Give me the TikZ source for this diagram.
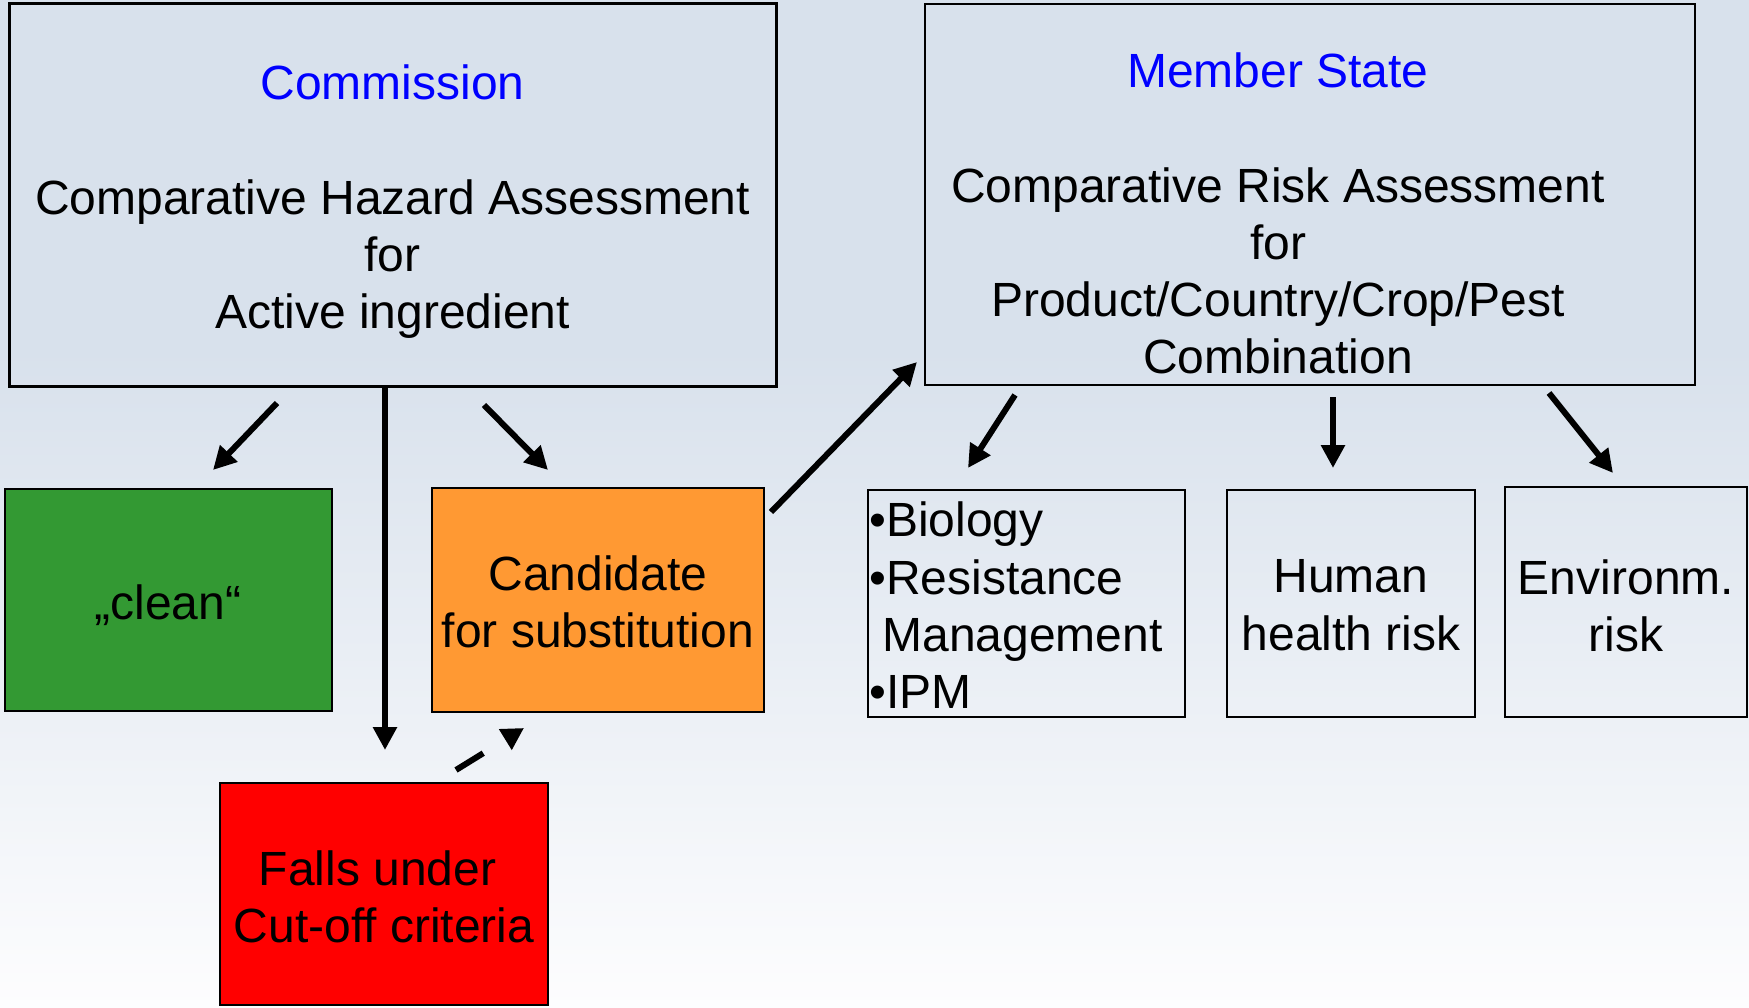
\documentclass[tikz,border=0pt]{standalone}
\usepackage{fontspec}
\setmainfont{Liberation Sans}
\usetikzlibrary{arrows.meta}
\definecolor{bgtop}{RGB}{216,225,236}
\definecolor{bgbot}{RGB}{253,253,254}
\definecolor{cgreen}{RGB}{51,153,51}
\definecolor{corange}{RGB}{255,153,51}
\definecolor{cred}{RGB}{255,0,0}
\definecolor{cblue}{RGB}{0,0,255}
\begin{document}
\begin{tikzpicture}[x=1pt,y=-1pt,
  box/.style={draw=black, line width=2.5pt, rectangle, inner sep=0pt, outer sep=0pt},
  txt/.style={font=\fontsize{48}{57.3}\selectfont, align=center, inner sep=0pt, anchor=north},
  arr/.style={line width=6pt, -{Triangle[length=23pt,width=23pt]}},
  darr/.style={line width=6pt, dash pattern=on 32pt off 60pt, -{Triangle[length=22pt,width=23pt]}},
]
% background
\useasboundingbox (0,0) rectangle (1749,1008);
\fill[bgtop] (0,0) rectangle (1749,350);
\shade[top color=bgtop, bottom color=bgbot] (0,349) rectangle (1749,1008);

% boxes
\node[box, line width=3pt, minimum width=767pt, minimum height=382pt] (comm) at (392.5,195) {};
\node[box, minimum width=770pt, minimum height=381pt] (ms) at (1310,194.5) {};
\node[box, fill=cgreen, minimum width=327pt, minimum height=222pt] (clean) at (168.5,600) {};
\node[box, fill=corange, minimum width=332pt, minimum height=224pt] (cand) at (598,600) {};
\node[box, fill=cred, minimum width=328pt, minimum height=222pt] (falls) at (384,894) {};
\node[box, minimum width=317pt, minimum height=227pt] (bio) at (1026.5,603.5) {};
\node[box, minimum width=248pt, minimum height=227pt] (human) at (1351,603.5) {};
\node[box, minimum width=242pt, minimum height=230pt] (env) at (1626,602) {};

% texts
\node[txt] (commT) at (392.5,64.5) {\textcolor{cblue}{Commission}\\[57.3pt]Comparative Hazard Assessment\\for\\Active ingredient};
\node[txt] (msT) at (1278,52.5) {\textcolor{cblue}{Member State}\\[57.3pt]Comparative Risk Assessment\\for\\Product/Country/Crop/Pest\\Combination};
\node[txt] (cleanT) at (168,584.5) {„clean“};
\node[txt] (candT) at (598,555.5) {Candidate\\for substitution};
\node[txt] (fallsT) at (384,850.5) {Falls under\kern13pt\\Cut-off criteria};
\node[txt, align=left, anchor=north west] (bioT) at (869,502) {•Biology\\•Resistance\\\kern13.3pt Management\\•IPM};
\node[txt] (humT) at (1351,559.5) {Human\\health risk};
\node[txt] (envT) at (1626,559.5) {Environm.\\risk};

% connector end points
\coordinate (c1s) at (277,403); \coordinate (c1e) at (213,470);
\coordinate (vs) at (385,387);  \coordinate (ve) at (385,750);
\coordinate (c2s) at (484,405); \coordinate (c2e) at (548,470);
\coordinate (c3s) at (771,512); \coordinate (c3e) at (917,362);
\coordinate (ds) at (456,770);  \coordinate (de) at (524,728);
\coordinate (c4s) at (1015,395); \coordinate (c4e) at (968,468);
\coordinate (c5s) at (1333,397); \coordinate (c5e) at (1333,468);
\coordinate (c6s) at (1549,393); \coordinate (c6e) at (1613,473);

\draw[arr] (c1s) -- (c1e);
\draw[arr] (vs) -- (ve);
\draw[arr] (c2s) -- (c2e);
\draw[arr] (c3s) -- (c3e);
\draw[darr] (ds) -- (de);
\draw[arr] (c4s) -- (c4e);
\draw[arr] (c5s) -- (c5e);
\draw[arr] (c6s) -- (c6e);
\end{tikzpicture}
\end{document}
